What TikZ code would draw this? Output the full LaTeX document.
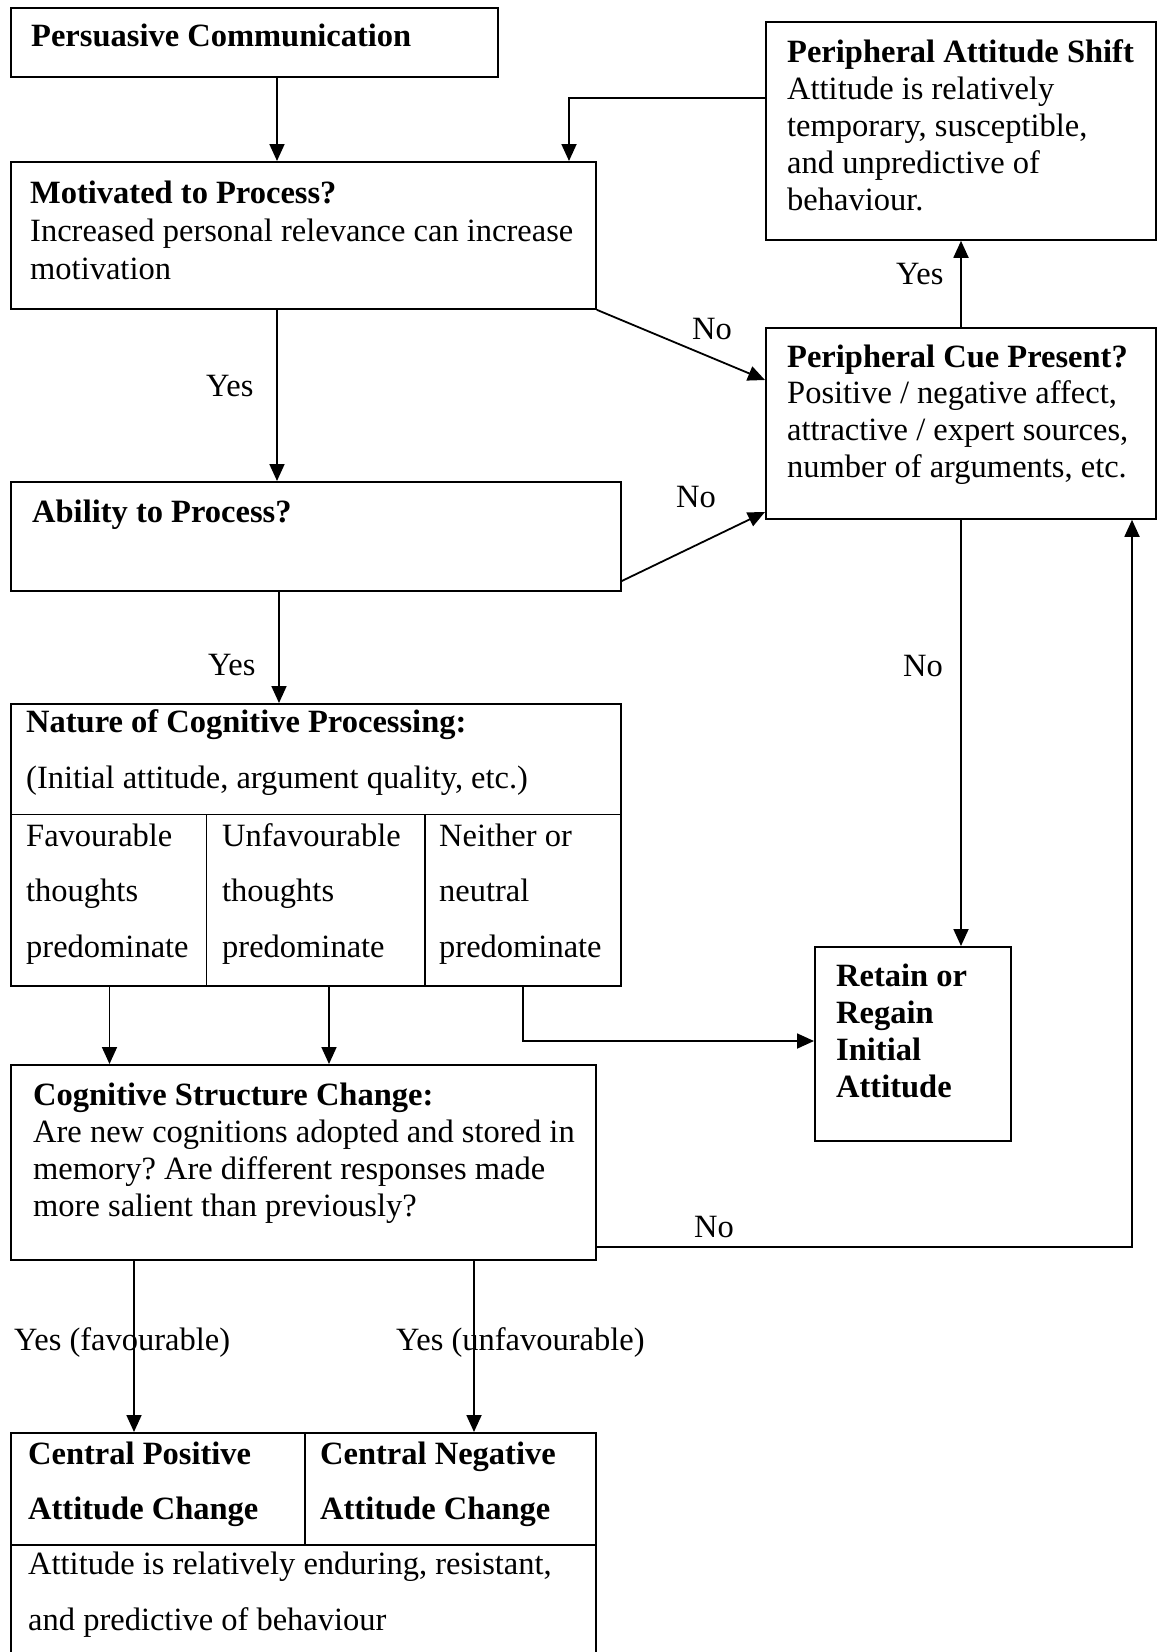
\documentclass[tikz,border=0pt]{standalone}
\usepackage{fontspec}
\setmainfont{Liberation Serif}
\usetikzlibrary{arrows.meta}
\frenchspacing
% stacked lines with a fixed baseline distance; the node's base is the first line
\newcommand\rowtxt[1]{\hbox{#1}}
\newcommand\stacked[2]{\vtop{\baselineskip=#1\relax\lineskiplimit=-100pt\lineskip=0pt #2}}

\begin{document}
\begin{tikzpicture}[x=1pt,y=-1pt,
  box/.style={draw, line width=1.8pt, inner sep=0pt, anchor=north west},
  rule/.style={line width=1.8pt},
  arr/.style={line width=1.8pt, -{Triangle[length=17pt,width=15pt]}},
  txt/.style={anchor=base west, inner sep=0pt, font=\fontsize{32.5pt}{37pt}\selectfont},
  hd/.style={txt, font=\fontsize{32.5pt}{37pt}\selectfont\bfseries},
]
\useasboundingbox (0,0) rectangle (1159,1652);
\clip (0,0) rectangle (1159,1652);

% ---------- boxes ----------
\node[box, minimum width=487pt, minimum height=69pt]  (pc)   at (10,7)    {};
\node[box, minimum width=585pt, minimum height=147pt] (mot)  at (10,161)  {};
\node[box, minimum width=390pt, minimum height=218pt] (pas)  at (765,21)  {};
\node[box, minimum width=390pt, minimum height=191pt] (pcp)  at (765,327) {};
\node[box, minimum width=610pt, minimum height=109pt] (abil) at (10,481)  {};
\node[box, minimum width=610pt, minimum height=282pt] (nat)  at (10,703)  {};
\node[box, minimum width=196pt, minimum height=194pt] (ret)  at (814,946) {};
\node[box, minimum width=585pt, minimum height=195pt] (csc)  at (10,1064) {};
\node[box, minimum width=585pt, minimum height=260pt] (cen)  at (10,1432) {};

% inner rules of the table-like boxes
\coordinate (natrow) at (0,814.5);
\coordinate (natc1) at (206.5,0);
\coordinate (natc2) at (425,0);
\draw[rule] (nat.west |- natrow) -- (nat.east |- natrow);
\draw[rule] (natc1 |- natrow) -- (nat.south -| natc1);
\draw[rule] (natc2 |- natrow) -- (nat.south -| natc2);

\coordinate (cenrow) at (0,1545);
\coordinate (cenc1) at (305,0);
\draw[rule] (cen.west |- cenrow) -- (cen.east |- cenrow);
\draw[rule] (cen.north -| cenc1) -- (cenc1 |- cenrow);

% ---------- texts ----------
\node[hd] (pcT) at (31,46) {Persuasive Communication};

\node[txt] (motT) at (30,203) {\stacked{38pt}{%
  \rowtxt{\bfseries Motivated to Process?}%
  \rowtxt{Increased personal relevance can increase}%
  \rowtxt{motivation}}};

\node[txt] (pasT) at (787,62) {\stacked{37pt}{%
  \rowtxt{\bfseries Peripheral Attitude Shift}%
  \rowtxt{Attitude is relatively}%
  \rowtxt{temporary, susceptible,}%
  \rowtxt{and unpredictive of}%
  \rowtxt{behaviour.}}};

\node[txt] (pcpT) at (787,367) {\stacked{36.7pt}{%
  \rowtxt{\bfseries Peripheral Cue Present?}%
  \rowtxt{Positive / negative affect,}%
  \rowtxt{attractive / expert sources,}%
  \rowtxt{number of arguments, etc.}}};

\node[hd] (abilT) at (32,522) {Ability to Process?};

\node[txt] (natT) at (26,732) {\stacked{56pt}{%
  \rowtxt{\bfseries Nature of Cognitive Processing:}%
  \rowtxt{(Initial attitude, argument quality, etc.)}}};

\node[txt] (natA) at (26,846)  {\stacked{55.5pt}{\rowtxt{Favourable}\rowtxt{thoughts}\rowtxt{predominate}}};
\node[txt] (natB) at (222,846) {\stacked{55.5pt}{\rowtxt{Unfavourable}\rowtxt{thoughts}\rowtxt{predominate}}};
\node[txt] (natC) at (439,846) {\stacked{55.5pt}{\rowtxt{Neither or}\rowtxt{neutral}\rowtxt{predominate}}};

\node[txt] (retT) at (836,986) {\stacked{37pt}{\bfseries
  \rowtxt{Retain or}\rowtxt{Regain}\rowtxt{Initial}\rowtxt{Attitude}}};

\node[txt] (cscT) at (33,1105) {\stacked{37pt}{%
  \rowtxt{\bfseries Cognitive Structure Change:}%
  \rowtxt{Are new cognitions adopted and stored in}%
  \rowtxt{memory? Are different responses made}%
  \rowtxt{more salient than previously?}}};

\node[txt] (cenA) at (28,1464) {\stacked{55pt}{\bfseries
  \rowtxt{Central Positive}\rowtxt{Attitude Change}}};
\node[txt] (cenB) at (320,1464) {\stacked{55pt}{\bfseries
  \rowtxt{Central Negative}\rowtxt{Attitude Change}}};
\node[txt] (cenC) at (28,1574) {\stacked{56pt}{%
  \rowtxt{Attitude is relatively enduring, resistant,}%
  \rowtxt{and predictive of behaviour}}};

% ---------- connectors ----------
\coordinate (xmain) at (277,0);
\coordinate (xmain2) at (279,0);
\coordinate (ypas) at (569,98);
\coordinate (ymot) at (0,380);
\coordinate (yabil) at (0,581);
\coordinate (ypcp) at (0,512);
\coordinate (xcue) at (961,0);
\coordinate (xfav) at (109.5,0);
\coordinate (xunf) at (329,0);
\coordinate (xneu) at (523,0);
\coordinate (yneu) at (0,1041);
\coordinate (xback) at (1132,0);
\coordinate (yback) at (0,1247);
\coordinate (xpos) at (134,0);
\coordinate (xneg) at (474,0);

\draw[arr] (pc.south -| xmain) -- (mot.north -| xmain);
\draw[arr] (pas.west |- ypas) -| (mot.north -| ypas);
\draw[arr] (mot.south east) -- (pcp.west |- ymot);
\draw[arr] (mot.south -| xmain) -- (abil.north -| xmain);
\draw[arr] (abil.east |- yabil) -- (pcp.west |- ypcp);
\draw[arr] (abil.south -| xmain2) -- (nat.north -| xmain2);
\draw[arr] (pcp.north -| xcue) -- (pas.south -| xcue);
\draw[arr] (pcp.south -| xcue) -- (ret.north -| xcue);
\draw[arr] (nat.south -| xfav) -- (csc.north -| xfav);
\draw[arr] (nat.south -| xunf) -- (csc.north -| xunf);
\draw[arr] (nat.south -| xneu) |- (ret.west |- yneu);
\draw[arr] (csc.east |- yback) -| (pcp.south -| xback);
\draw[arr] (csc.south -| xpos) -- (cen.north -| xpos);
\draw[arr] (csc.south -| xneg) -- (cen.north -| xneg);

% ---------- connector labels ----------
\node[txt] (l1) at (692,339)   {No};
\node[txt] (l2) at (206,396)   {Yes};
\node[txt] (l3) at (676,507)   {No};
\node[txt] (l4) at (896,284)   {Yes};
\node[txt] (l5) at (208,675)   {Yes};
\node[txt] (l6) at (903,676)   {No};
\node[txt] (l7) at (694,1237)  {No};
\node[txt] (l8) at (14,1350)   {Yes (favourable)};
\node[txt] (l9) at (396,1350)  {Yes (unfavourable)};
\end{tikzpicture}
\end{document}
